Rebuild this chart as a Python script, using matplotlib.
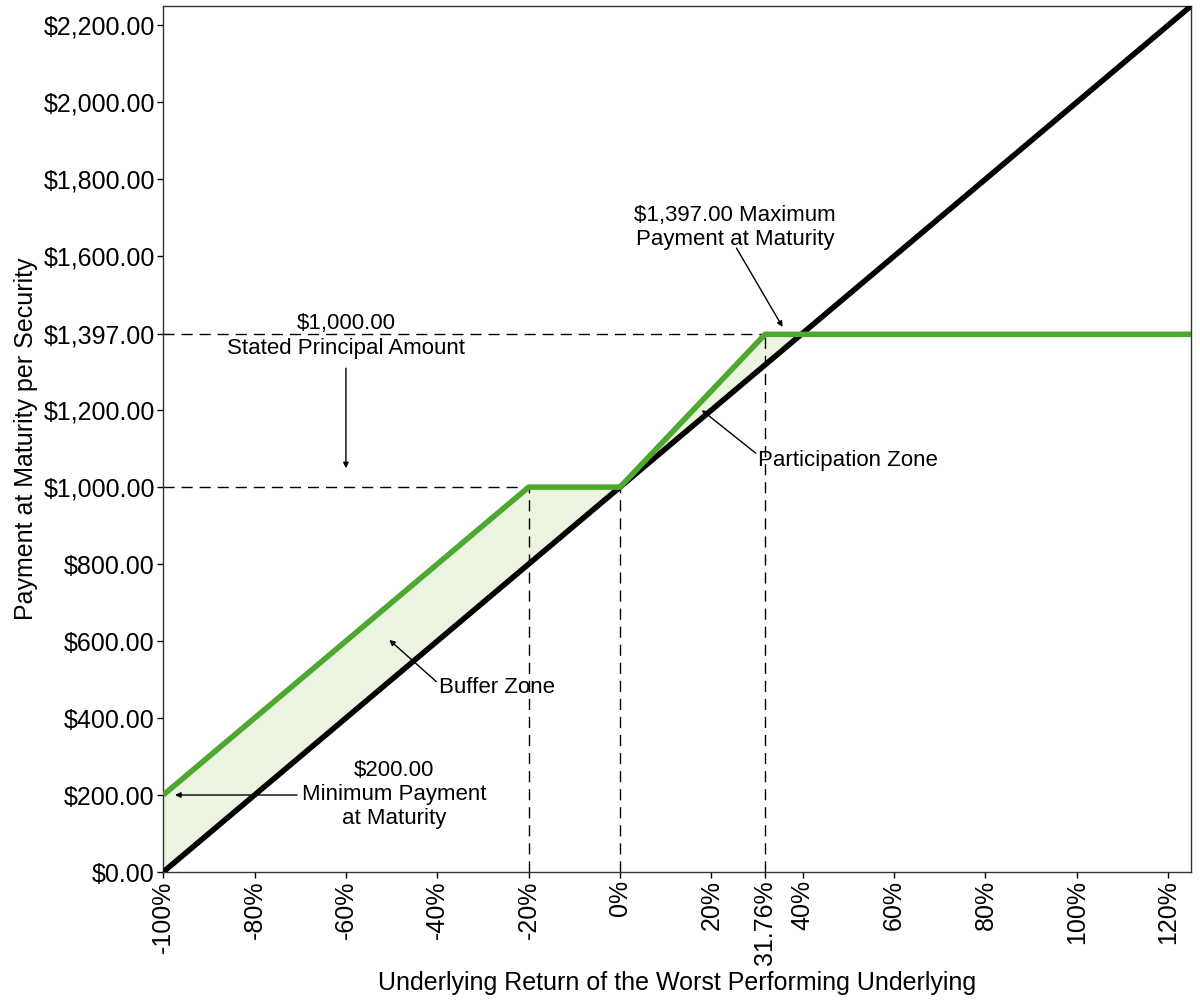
import matplotlib
matplotlib.use('Agg')
import matplotlib.pyplot as plt
import numpy as np

plt.rcParams.update({'font.family': ['Liberation Sans', 'DejaVu Sans']})

#%% data
# underlying return (%) and payment at maturity ($)
ret_pts = [-100, -20, 0, 31.76, 125]
pay_pts = [200, 1000, 1000, 1397, 1397]
principal = 1000
cap_level = 1397
cap_ret = 31.76
buffer_ret = -20

x_ticks = [-100, -80, -60, -40, -20, 0, 20, 31.76, 40, 60, 80, 100, 120]
x_labels = ['-100%', '-80%', '-60%', '-40%', '-20%', '0%', '20%', '31.76%',
            '40%', '60%', '80%', '100%', '120%']
y_ticks = [0, 200, 400, 600, 800, 1000, 1200, 1397, 1600, 1800, 2000, 2200]

green = '#4ea72e'
fill_c = '#ebf3e1'

xx = np.array(ret_pts, dtype=float)
underlying = principal * (1 + xx / 100)
security = np.array(pay_pts, dtype=float)

fig = plt.figure(figsize=(12, 10), dpi=100)
ax = fig.add_axes([0.136, 0.128, 0.8565, 0.866])

# shaded gain zones
ax.fill_between(xx, underlying, security, where=security >= underlying,
                interpolate=True, color=fill_c, lw=0, zorder=1)

# reference dashed lines
dash = dict(color='k', lw=1, dashes=(8, 5), zorder=2)
ax.plot([-100, cap_ret], [cap_level, cap_level], **dash)
ax.plot([cap_ret, cap_ret], [0, cap_level], **dash)
ax.plot([-100, buffer_ret], [principal, principal], **dash)
ax.plot([buffer_ret, buffer_ret], [0, principal], **dash)
ax.plot([0, 0], [0, principal], **dash)

ax.plot(xx, underlying, color='k', lw=4, zorder=3, solid_capstyle='butt')
ax.plot(xx, security, color=green, lw=4, zorder=4, solid_capstyle='butt')

ax.set_xlim(-100, 125)
ax.set_ylim(0, 2250)
ax.set_xticks(x_ticks)
ax.set_xticklabels(x_labels, rotation=90, fontsize=18)
ax.set_yticks(y_ticks)
ax.set_yticklabels(['${:,.2f}'.format(v) for v in y_ticks], fontsize=18)
ax.tick_params(direction='out', length=4, width=1, pad=2)
for s in ax.spines.values():
    s.set_linewidth(1)
    s.set_color('#333333')

ax.set_xlabel('Underlying Return of the Worst Performing Underlying', fontsize=18, labelpad=4)
ax.set_ylabel('Payment at Maturity per Security', fontsize=18, labelpad=4)

# annotations
def arrow(rel=(0.5, 0.5)):
    return dict(arrowstyle='-|>', color='k', lw=1, mutation_scale=8,
                shrinkA=0, shrinkB=0, relpos=rel)

ax.annotate('', xy=(-60, 1049), xytext=(-60, 1309), arrowprops=arrow())
ax.text(-60, 1393, '$1,000.00\nStated Principal Amount', ha='center', va='center',
        fontsize=16, linespacing=1.25)
ax.annotate('Buffer Zone', xy=(-50.5, 603), xytext=(-39.6, 480),
            ha='left', va='center', fontsize=16, arrowprops=arrow((-0.01, 0.7)))
ax.annotate('', xy=(-97.4, 200), xytext=(-70.7, 200), arrowprops=arrow())
ax.text(-49.5, 202, '$200.00\nMinimum Payment\nat Maturity', ha='center', va='center',
        fontsize=16, linespacing=1.2)
ax.annotate('Participation Zone', xy=(17.9, 1200), xytext=(30.3, 1070),
            ha='left', va='center', fontsize=16, arrowprops=arrow((-0.01, 0.8)))
ax.annotate('', xy=(35.6, 1416), xytext=(25.5, 1621), arrowprops=arrow())
ax.text(25.2, 1675, '$1,397.00 Maximum\nPayment at Maturity', ha='center', va='center',
        fontsize=16, linespacing=1.2)

fig.savefig('out.png', dpi=100)
